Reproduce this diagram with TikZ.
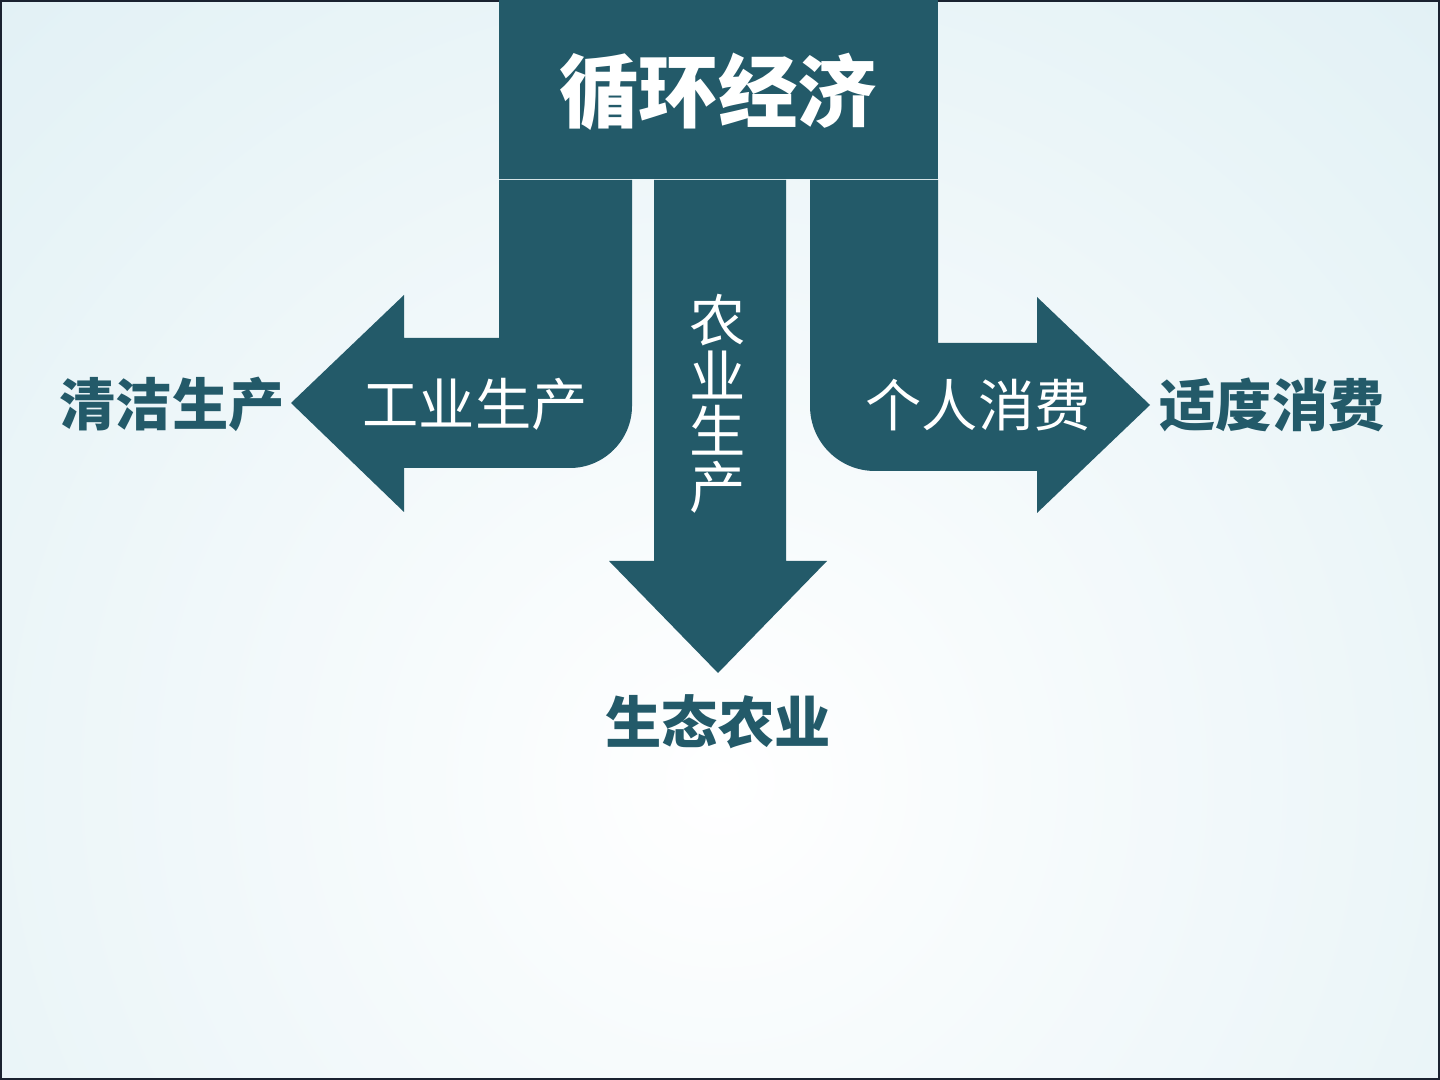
\documentclass[tikz,border=0pt]{standalone}
\usepackage{fontspec}
\newfontfamily\cjk{Noto Sans CJK SC}
\definecolor{teal}{HTML}{235A69}
\definecolor{bgblue}{HTML}{D6EBF1}
\definecolor{frame}{HTML}{1A2230}
\begin{document}
\begin{tikzpicture}[x=0.01cm,y=-0.01cm,
  band/.style={fill=teal},
  inlabel/.style={text=white,font=\cjk\fontsize{16}{16}\selectfont,inner sep=0pt},
  outlabel/.style={text=teal,font=\cjk\bfseries\fontsize{16}{16}\selectfont,inner sep=0pt}]
  % background
  \useasboundingbox (0,0) rectangle (1440,1080);
  \begin{scope}
    \clip (0,0) rectangle (1440,1080);
    \shade[inner color=white,outer color=bgblue] (720,780) circle (1500);
  \end{scope}
  \draw[frame,line width=0.6pt] (0.5,0.5) rectangle (1439.5,1079.5);
  % title block
  \fill[band] (499,0) rectangle (938,179);
  \node[text=white,font=\cjk\bfseries\fontsize{22.6}{22.6}\selectfont,inner sep=0pt] (title) at (718,92) {循环经济};
  % left bent arrow
  \fill[band] (499,180) -- (632,180) -- (632,406) .. controls (632,440) and (604,468) .. (570,468)
    -- (404,468) -- (404,512) -- (291,403) -- (404,295) -- (404,338) -- (499,338) -- cycle;
  % middle arrow
  \fill[band] (654,180) -- (786,180) -- (786,561) -- (827,561) -- (718,673) -- (609,561) -- (654,561) -- cycle;
  % right bent arrow
  \fill[band] (810,180) -- (938,180) -- (938,343) -- (1037,343) -- (1037,297) -- (1150,405)
    -- (1037,513) -- (1037,471) -- (875,471) .. controls (839,471) and (810,442) .. (810,406) -- cycle;
  % labels
  \node[inlabel] (industry) at (475,404) {工业生产};
  \node[inlabel,align=center,font=\cjk\fontsize{16}{15.8}\selectfont] (farming) at (718,404) {农\\业\\生\\产};
  \node[inlabel] (consume) at (978,405) {个人消费};
  \node[outlabel] (clean) at (172,404) {清洁生产};
  \node[outlabel] (eco) at (718,722) {生态农业};
  \node[outlabel] (moderate) at (1272,405) {适度消费};
\end{tikzpicture}
\end{document}
